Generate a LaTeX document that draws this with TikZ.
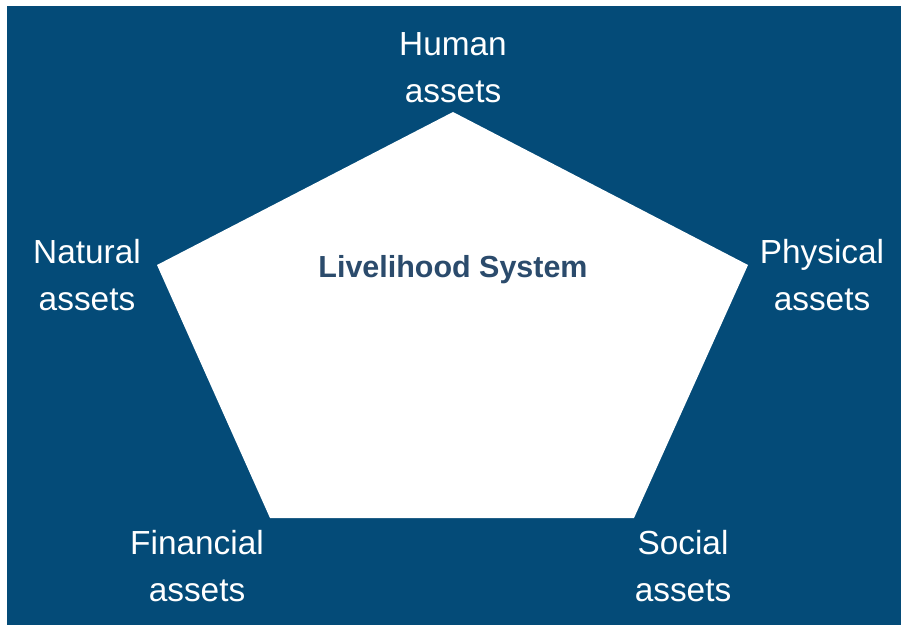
\documentclass[tikz,border=0pt]{standalone}
\usepackage{fontspec}
\setmainfont{Liberation Sans}
\definecolor{bgblue}{HTML}{044B78}
\definecolor{titleblue}{HTML}{2B4B6C}
\begin{document}
\begin{tikzpicture}[x=0.03cm, y=-0.03cm,
    asset/.style={text=white, align=center, inner sep=0pt,
        font=\fontsize{28.5}{40}\selectfont}]
    \useasboundingbox (0,0) rectangle (901,625);
    \fill[bgblue] (7,6) rectangle (901,625);
    % pentagon corners
    \coordinate (ptop) at (453,112);
    \coordinate (pright) at (748,265);
    \coordinate (pbright) at (634,518);
    \coordinate (pbleft) at (270,518);
    \coordinate (pleft) at (157,265);
    \fill[white] (ptop) -- (pright) -- (pbright) -- (pbleft) -- (pleft) -- cycle;
    \node[text=titleblue, font=\bfseries\fontsize{26}{30}\selectfont] (system) at (453,270) {Livelihood System};
    \node[asset] (human) at (453,68) {Human\\assets};
    \node[asset] (natural) at (87,275) {Natural\\assets};
    \node[asset] (physical) at (822,275) {Physical\\assets};
    \node[asset] (financial) at (197,566) {Financial\\assets};
    \node[asset] (social) at (683,566) {Social\\assets};
\end{tikzpicture}
\end{document}
